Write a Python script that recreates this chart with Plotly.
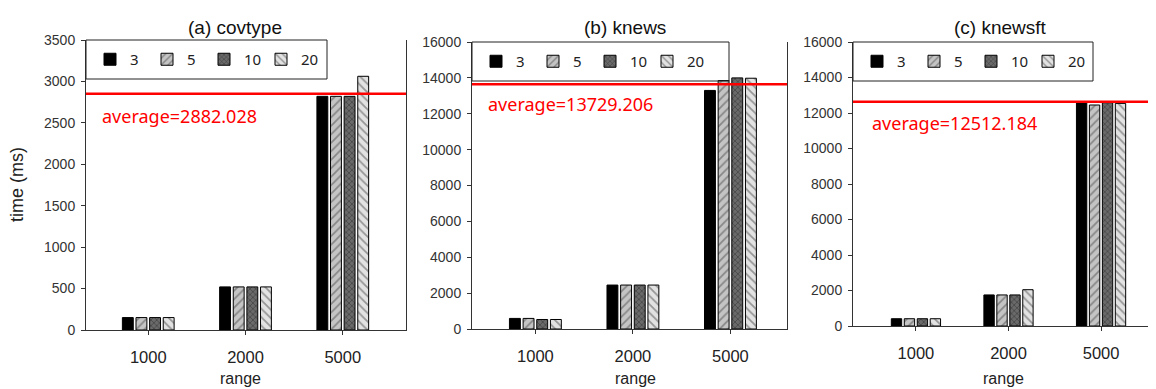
import plotly.graph_objects as go

categories = ["1000", "2000", "5000"]
series_names = ["3", "5", "10", "20"]

covtype = {
    "3": [150, 520, 2820],
    "5": [150, 520, 2820],
    "10": [150, 520, 2820],
    "20": [150, 520, 3062],
}
knews = {
    "3": [590, 2450, 13300],
    "5": [590, 2450, 13850],
    "10": [530, 2450, 14000],
    "20": [530, 2450, 13980],
}
knewsft = {
    "3": [410, 1750, 12620],
    "5": [410, 1750, 12450],
    "10": [410, 1750, 12580],
    "20": [410, 2045, 12540],
}
avg_line = [2850, 13640, 12640]
avg_text = ["average=2882.028", "average=13729.206", "average=12512.184"]
titles = ["(a) covtype", "(b) knews", "(c) knewsft"]
y_max = [3500, 16000, 16000]
y_dtick = [500, 2000, 2000]

W, H = 1156, 389
# observed placement of the paper inside the screenshot
OX, OY, PW, PH = 8, 15, 1156, 373

panels = [(86, 406, 39, 329), (472, 787, 41, 328), (853, 1164, 41, 325)]
xranges = [[-0.64, 2.65], [-0.65, 2.58], [-0.68, 2.68]]
legend_right = [327, 729, 1093]

styles = {
    "3": dict(color="#000000", pattern=None),
    "5": dict(color="#c4c4c4", pattern=dict(shape="/", fgcolor="#4a4a4a", bgcolor="#c4c4c4", size=6, solidity=0.3)),
    "10": dict(color="#5a5a5a", pattern=dict(shape="x", fgcolor="#1e1e1e", bgcolor="#6a6a6a", size=4, solidity=0.35)),
    "20": dict(color="#e2e2e2", pattern=dict(shape="\\", fgcolor="#4a4a4a", bgcolor="#e2e2e2", size=6, solidity=0.3)),
}

def px_x(x):
    return min(1.0, max(0.0, (x - OX) / PW))

def px_y(y):
    return min(1.0, max(0.0, 1 - (y - OY) / PH))

fig = go.Figure()
datasets = [covtype, knews, knewsft]
for i, data in enumerate(datasets):
    sfx = "" if i == 0 else str(i + 1)
    for name in series_names:
        st = styles[name]
        marker = dict(color=st["color"], line=dict(color="#000000", width=1))
        if st["pattern"]:
            marker["pattern"] = st["pattern"]
        fig.add_trace(go.Bar(
            x=[0, 1, 2], y=data[name], name=name,
            xaxis="x" + sfx, yaxis="y" + sfx,
            marker=marker,
            legend="legend" + sfx,
            showlegend=True,
        ))

layout = dict(
    width=W, height=H, margin=dict(l=0, r=0, t=0, b=0),
    paper_bgcolor="white", plot_bgcolor="white",
    barmode="group", bargap=0.44, bargroupgap=0.2,
    showlegend=True,
    font=dict(family="Liberation Sans, Arial", color="#222222"),
)

shapes = []
annotations = []
for i in range(3):
    sfx = "" if i == 0 else str(i + 1)
    L, R, T, B = panels[i]
    layout["xaxis" + sfx] = dict(
        domain=[px_x(L), px_x(R)], anchor="y" + sfx,
        range=xranges[i], tickmode="array", tickvals=[0, 1, 2], ticktext=categories,
        showline=True, linecolor="#333333", linewidth=1,
        ticks="outside", ticklen=4, tickcolor="#333333",
        showgrid=False, zeroline=False, fixedrange=True,
        tickfont=dict(size=16.5, family="Liberation Sans, Arial", color="#222222"),
        ticklabelstandoff=8,
    )
    layout["yaxis" + sfx] = dict(
        domain=[px_y(B), px_y(T)], anchor="x" + sfx,
        range=[0, y_max[i]], dtick=y_dtick[i], tickformat="d",
        showline=True, linecolor="#333333", linewidth=1, mirror=(i < 2),
        ticks="outside", ticklen=4, tickcolor="#333333",
        showgrid=False, zeroline=False, fixedrange=True,
        tickfont=dict(size=14, family="Liberation Sans, Arial", color="#333333"),
        ticklabelstandoff=3,
    )
    shapes.append(dict(
        type="rect", xref="paper", yref="paper",
        x0=px_x(L), x1=px_x(legend_right[i]), y0=px_y(T + 39), y1=px_y(T),
        line=dict(color="#222222", width=1), fillcolor="rgba(0,0,0,0)", layer="above",
    ))
    shapes.append(dict(
        type="line", xref="x" + sfx + " domain", yref="y" + sfx,
        x0=0, x1=1, y0=avg_line[i], y1=avg_line[i],
        line=dict(color="#ff0000", width=2.5), layer="above",
    ))
    layout["legend" + sfx] = dict(
        orientation="h", x=px_x(L + 4), y=px_y(T + 19.5), xanchor="left", yanchor="middle",
        bgcolor="rgba(0,0,0,0)", borderwidth=0,
        font=dict(family="Noto Sans", size=15, color="#222222"),
        itemclick=False, itemdoubleclick=False,
        tracegroupgap=0, entrywidth=12, entrywidthmode="pixels",
    )
    annotations.append(dict(
        text=titles[i], xref="paper", yref="paper",
        x=px_x([235, 625, 1000][i]), y=px_y(26.5), xanchor="center", yanchor="middle",
        showarrow=False, font=dict(size=19, family="Liberation Sans, Arial", color="#111111"),
    ))
    annotations.append(dict(
        text="range", xref="paper", yref="paper",
        x=px_x([240, 635, 1003][i]), y=px_y(377), xanchor="center", yanchor="middle",
        showarrow=False, font=dict(size=16, family="Liberation Sans, Arial", color="#222222"),
    ))
    annotations.append(dict(
        text=avg_text[i], xref="paper", yref="paper",
        x=px_x([100, 486, 870][i]), y=px_y([115, 103, 122][i]), xanchor="left", yanchor="middle",
        showarrow=False, font=dict(size=18, family="Noto Sans", color="#ff0000"),
    ))

annotations.append(dict(
    text="time (ms)", xref="paper", yref="paper",
    x=px_x(17), y=px_y(184), xanchor="center", yanchor="middle", textangle=-90,
    showarrow=False, font=dict(size=18, family="Liberation Sans, Arial", color="#222222"),
))

layout["shapes"] = shapes
layout["annotations"] = annotations
fig.update_layout(**layout)
fig.write_html("out.html")
